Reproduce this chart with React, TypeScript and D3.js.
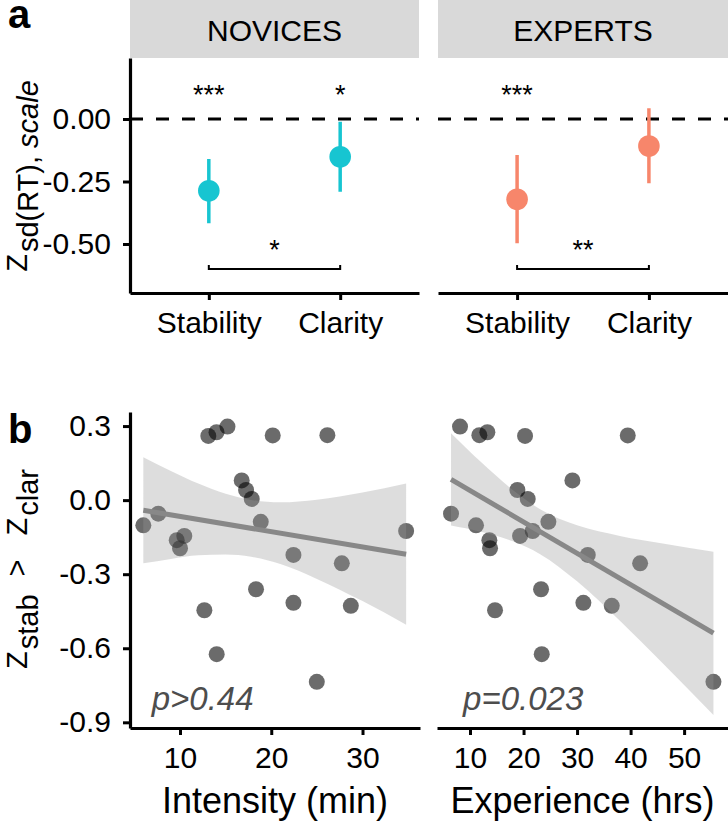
import { useRef, useEffect } from "react";
import * as d3 from "d3";

// ---- panel a: z-scored sd(RT) by condition ----
const conditions = ["Stability", "Clarity"];
const groups = ["NOVICES", "EXPERTS"];
const groupColors = ["#17C5D1", "#F7866B"];

const noviceMean = [-0.287, -0.151];
const noviceLo = [-0.417, -0.291];
const noviceHi = [-0.16, -0.011];
const expertMean = [-0.321, -0.108];
const expertLo = [-0.497, -0.257];
const expertHi = [-0.144, 0.043];

const noviceStars = ["***", "*"];
const expertStars = ["***", ""];
const bracketStars = ["*", "**"];
const topTicks = [0, -0.25, -0.5];

// ---- panel b: per-participant difference vs. practice ----
const zDiff = [
  0.298, 0.275, 0.263, 0.262, 0.26, 0.08, 0.041, 0.005, -0.055, -0.088, -0.102, -0.125,
  -0.145, -0.162, -0.195, -0.222, -0.256, -0.361, -0.416, -0.428, -0.446, -0.624, -0.736,
];
const intensity = [
  15.2, 14.0, 26.15, 20.16, 13.1, 16.76, 17.24, 17.86, 7.62, 18.85, 5.98, 34.78, 10.47, 9.64,
  10.0, 22.43, 27.73, 18.33, 22.43, 28.72, 12.67, 14.02, 24.99,
];
const experience = [
  8.13, 13.24, 11.74, 39.47, 20.28, 29.13, 18.85, 20.78, 6.45, 24.64, 11.12, 21.71, 19.35,
  13.61, 13.74, 32.0, 41.78, 23.27, 31.18, 36.48, 14.67, 23.4, 55.48,
];

// lm fit + 95% band
const intensityFitX = [5.98, 34.78];
const intensityFitY = [-0.041, -0.219];
const intensityBandX = [5.98, 9, 12, 15, 17.8, 21, 25, 30, 34.78];
const intensityBandLo = [-0.256, -0.238, -0.223, -0.22, -0.229, -0.259, -0.319, -0.409, -0.505];
const intensityBandHi = [0.174, 0.118, 0.067, 0.026, 0.001, -0.009, 0.002, 0.031, 0.067];

const experienceFitX = [6.45, 55.48];
const experienceFitY = [0.084, -0.539];
const experienceBandX = [6.45, 12, 18, 23.1, 30, 38, 46, 55.48];
const experienceBandLo = [-0.103, -0.128, -0.167, -0.219, -0.329, -0.489, -0.661, -0.87];
const experienceBandHi = [0.271, 0.155, 0.041, -0.037, -0.102, -0.145, -0.176, -0.209];

const bottomYTicks = [0.3, 0, -0.3, -0.6, -0.9];
const intensityTicks = [10, 20, 30];
const experienceTicks = [10, 20, 30, 40, 50];
const pLabels = ["p>0.44", "p=0.023"];

const FONT = "'Liberation Sans', Arial, Helvetica, sans-serif";

export default function App() {
  const svgRef = useRef<SVGSVGElement>(null);

  useEffect(() => {
    if (!svgRef.current) return;
    const svg = d3.select(svgRef.current);
    svg.selectAll("*").remove();
    svg.attr("font-family", FONT);

    const styleAxis = (g: any, fontSize: number) => {
      g.attr("color", "#000");
      g.select(".domain").attr("stroke-width", 3.2);
      g.selectAll(".tick line").attr("stroke-width", 3);
      g.selectAll(".tick text").attr("font-size", fontSize).attr("font-family", FONT);
    };

    // ================= panel a =================
    const yTop = d3.scaleLinear().domain([-0.696, 0.244]).range([293, 58]);
    const panelX = [
      [130, 419],
      [438, 728],
    ];
    const means = [noviceMean, expertMean];
    const los = [noviceLo, expertLo];
    const his = [noviceHi, expertHi];
    const stars = [noviceStars, expertStars];

    groups.forEach((grp, gi) => {
      const [x0, x1] = panelX[gi];
      const x = d3.scalePoint().domain(conditions).range([x0, x1]).padding(0.6);
      const col = groupColors[gi];

      // strip
      svg.append("rect").attr("x", x0).attr("y", 0).attr("width", x1 - x0).attr("height", 58).attr("fill", "#D9D9D9");
      svg.append("text")
        .attr("x", (x0 + x1) / 2)
        .attr("y", 41)
        .attr("text-anchor", "middle")
        .attr("font-size", 30)
        .text(grp);

      // zero reference
      svg.append("line")
        .attr("x1", x0).attr("x2", x1)
        .attr("y1", yTop(0)).attr("y2", yTop(0))
        .attr("stroke", "#000")
        .attr("stroke-width", 3.2)
        .attr("stroke-dasharray", "13,13");

      // error bars + points
      conditions.forEach((c, ci) => {
        svg.append("line")
          .attr("x1", x(c)!).attr("x2", x(c)!)
          .attr("y1", yTop(los[gi][ci])).attr("y2", yTop(his[gi][ci]))
          .attr("stroke", col)
          .attr("stroke-width", 3.5);
        svg.append("circle")
          .attr("cx", x(c)!)
          .attr("cy", yTop(means[gi][ci]))
          .attr("r", 10.8)
          .attr("fill", col);
        if (stars[gi][ci]) {
          svg.append("text")
            .attr("x", x(c)!)
            .attr("y", yTop(0.062))
            .attr("text-anchor", "middle")
            .attr("font-size", 27)
            .text(stars[gi][ci]);
        }
      });

      // comparison bracket
      const by = yTop(-0.6);
      const bx0 = x(conditions[0])!;
      const bx1 = x(conditions[1])!;
      svg.append("path")
        .attr("d", `M${bx0},${by - 4}V${by}H${bx1}V${by - 4}`)
        .attr("fill", "none")
        .attr("stroke", "#000")
        .attr("stroke-width", 2);
      svg.append("text")
        .attr("x", (bx0 + bx1) / 2)
        .attr("y", yTop(-0.56))
        .attr("text-anchor", "middle")
        .attr("font-size", 27)
        .text(bracketStars[gi]);

      // x axis
      const ax = svg.append("g")
        .attr("transform", `translate(0,293)`)
        .call(d3.axisBottom(x).tickSize(7).tickSizeOuter(0).tickPadding(12));
      styleAxis(ax, 30);
    });

    const ayTop = svg.append("g")
      .attr("transform", `translate(130,0)`)
      .call(
        d3.axisLeft(yTop)
          .tickValues(topTicks)
          .tickFormat((d: any) => (+d).toFixed(2))
          .tickSize(7)
          .tickSizeOuter(0)
          .tickPadding(12)
      );
    styleAxis(ayTop, 30);

    // y title a
    const tA = svg.append("text")
      .attr("transform", `translate(27,176) rotate(-90)`)
      .attr("text-anchor", "middle");
    tA.append("tspan").attr("font-size", 29).text("Z");
    tA.append("tspan").attr("font-size", 29).attr("dy", 11).attr("dx", 2).text("sd(RT), ");
    tA.append("tspan").attr("font-size", 29).attr("font-style", "italic").text("scale");

    svg.append("text").attr("x", 8).attr("y", 28).attr("font-size", 40).attr("font-weight", "bold").text("a");

    // ================= panel b =================
    const yB = d3.scaleLinear().domain([-0.923, 0.357]).range([728, 412]);
    const xL = d3.scaleLinear().domain([4.52, 36.3]).range([130, 420]);
    const xR = d3.scaleLinear().domain([3.83, 58.2]).range([437, 728]);

    const scatter = [
      { x: xL, xs: intensity, fitX: intensityFitX, fitY: intensityFitY, bx: intensityBandX, lo: intensityBandLo, hi: intensityBandHi, ticks: intensityTicks, title: "Intensity (min)", p: pLabels[0], px: 6.9 },
      { x: xR, xs: experience, fitX: experienceFitX, fitY: experienceFitY, bx: experienceBandX, lo: experienceBandLo, hi: experienceBandHi, ticks: experienceTicks, title: "Experience (hrs)", p: pLabels[1], px: 8.7 },
    ];

    scatter.forEach((s) => {
      const g = svg.append("g");
      g.selectAll("circle")
        .data(zDiff)
        .join("circle")
        .attr("cx", (_d, i) => s.x(s.xs[i]))
        .attr("cy", (d) => yB(d))
        .attr("r", 8)
        .attr("fill", "#000")
        .attr("fill-opacity", 0.58);

      const area = d3.area<number>()
        .x((_d, i) => s.x(s.bx[i]))
        .y0((_d, i) => yB(s.lo[i]))
        .y1((_d, i) => yB(s.hi[i]))
        .curve(d3.curveMonotoneX);
      g.append("path").datum(s.bx).attr("d", area).attr("fill", "#999").attr("fill-opacity", 0.33);

      const line = d3.line<number>()
        .x((_d, i) => s.x(s.fitX[i]))
        .y((_d, i) => yB(s.fitY[i]));
      g.append("path").datum(s.fitX).attr("d", line).attr("stroke", "#888").attr("stroke-width", 5).attr("fill", "none");

      g.append("text")
        .attr("x", s.x(s.px))
        .attr("y", yB(-0.85))
        .attr("font-size", 33)
        .attr("font-style", "italic")
        .attr("fill", "#4D4D4D")
        .text(s.p);

      const ax = svg.append("g")
        .attr("transform", `translate(0,728)`)
        .call(d3.axisBottom(s.x).tickValues(s.ticks).tickFormat(d3.format("d")).tickSize(7).tickSizeOuter(0).tickPadding(12));
      styleAxis(ax, 30);

      const [r0, r1] = s.x.range();
      svg.append("text")
        .attr("x", (r0 + r1) / 2)
        .attr("y", 813)
        .attr("text-anchor", "middle")
        .attr("font-size", 36)
        .text(s.title);
    });

    const ayB = svg.append("g")
      .attr("transform", `translate(130,0)`)
      .call(
        d3.axisLeft(yB)
          .tickValues(bottomYTicks)
          .tickFormat((d: any) => (+d).toFixed(1))
          .tickSize(7)
          .tickSizeOuter(0)
          .tickPadding(12)
      );
    styleAxis(ayB, 30);

    // y title b
    const tB = svg.append("text")
      .attr("transform", `translate(27,569) rotate(-90)`)
      .attr("text-anchor", "middle");
    tB.append("tspan").attr("font-size", 29).text("Z");
    tB.append("tspan").attr("font-size", 29).attr("dy", 11).attr("dx", 2).text("stab");
    tB.append("tspan").attr("font-size", 29).attr("dy", -11).attr("dx", 18).text(">");
    tB.append("tspan").attr("font-size", 29).attr("dx", 24).text("Z");
    tB.append("tspan").attr("font-size", 29).attr("dy", 11).attr("dx", 2).text("clar");

    svg.append("text").attr("x", 8).attr("y", 443).attr("font-size", 40).attr("font-weight", "bold").text("b");
  }, []);

  return (
    <div style={{ position: "absolute", left: 0, top: 0 }}>
      <svg ref={svgRef} width={728} height={831} style={{ display: "block", background: "#fff" }} />
    </div>
  );
}
